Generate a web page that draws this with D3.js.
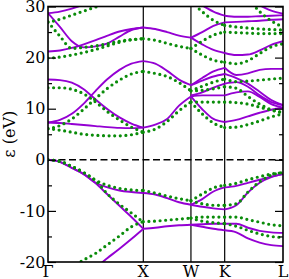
<!DOCTYPE html>
<html>
<head>
<meta charset="utf-8">
<script src="https://cdn.jsdelivr.net/npm/d3@7"></script>
<style>
  body { margin: 0; background: #fff; }
  svg text { font-family: "DejaVu Serif", serif; }
</style>
</head>
<body>
<script>
// high symmetry points along the path (fcc)
var kSym = [0, 1, 1.5, 1.854, 2.466];
var kLabels = ["Γ", "X", "W", "K", "L"];
var yMajor = [-20, -10, 0, 10, 20, 30];
var yMinor = [-15, -5, 5, 15, 25];

// k samples on each segment
var kGX = [0, 0.125, 0.25, 0.375, 0.5, 0.625, 0.75, 0.875, 1];
var kXW = [1, 1.125, 1.25, 1.375, 1.5];
var kWK = [1.5, 1.618, 1.736, 1.854];
var kKL = [1.854, 1.976, 2.098, 2.221, 2.343, 2.466];

// purple bands (eV), one row per band
var purpleGX = [
  [0, -0.4, -1.6, -2.8, -4.5, -5.4, -6.0, -6.3, -6.5],
  [0, -0.4, -1.6, -2.8, -4.6, -6.8, -9.0, -11.2, -13.5],
  [-23, -22.8, -22.4, -21.8, -21.0, -19.2, -17.4, -15.5, -13.5],
  [7.3, 7.2, 7.0, 6.8, 6.6, 6.4, 6.25, 6.2, 6.3],
  [7.3, 7.8, 9.0, 11.0, 13.5, 15.8, 17.6, 18.8, 19.3],
  [15.7, 15.6, 15.1, 13.8, 11.8, 9.9, 8.3, 7.1, 6.3],
  [21.2, 21.4, 21.9, 22.6, 23.4, 24.3, 25.1, 25.6, 25.9],
  [28.7, 26.0, 23.2, 22.0, 22.2, 22.8, 24.1, 25.4, 25.9],
  [28.7, 29.0, 29.6, 30.4, 31.5, 32.5, 33.5, 34, 34]
];
var purpleXW = [
  [-6.5, -6.8, -7.5, -8.3, -8.8],
  [-13.5, -13.3, -13.0, -12.8, -12.7],
  [6.3, 6.9, 8.0, 10.6, 12.4],
  [19.3, 18.8, 17.4, 15.7, 14.6],
  [25.9, 25.6, 25.0, 24.3, 23.9]
];
var purpleWK = [
  [-8.8, -7.7, -6.2, -5.4],
  [-8.8, -9.2, -9.5, -9.7],
  [-12.7, -12.6, -12.5, -12.5],
  [-12.7, -13.1, -13.5, -13.8],
  [12.4, 12.6, 12.6, 12.6],
  [12.4, 9.9, 8.0, 7.4],
  [14.6, 16.0, 17.3, 18.0],
  [14.6, 15.5, 16.3, 16.8],
  [12.6, 13.2, 14.1, 14.9],
  [23.9, 25.0, 26.2, 26.9],
  [23.9, 22.6, 21.5, 20.9],
  [31.5, 30.2, 29.0, 28.2]
];
var purpleKL = [
  [-5.4, -5.1, -4.5, -3.9, -3.3, -2.8],
  [-9.7, -8.9, -6.4, -4.5, -3.4, -2.8],
  [-12.5, -12.5, -13.3, -13.9, -14.2, -14.3],
  [-13.8, -14.2, -15.4, -16.2, -16.7, -16.9],
  [7.4, 7.8, 8.5, 9.2, 9.8, 10.2],
  [12.6, 13.2, 13.4, 12.3, 10.9, 10.2],
  [14.9, 15.2, 14.3, 12.6, 11.3, 10.7],
  [16.8, 16.0, 14.9, 13.3, 11.7, 10.7],
  [18.0, 16.6, 16.9, 17.6, 17.8, 17.8],
  [20.9, 20.5, 20.6, 21.4, 22.5, 23.2],
  [26.9, 27.0, 27.1, 27.2, 27.4, 27.5],
  [28.2, 28.0, 28.0, 28.1, 28.2, 28.3],
  [33, 32, 31, 30.2, 29.2, 28.6]
];

// green (dotted) bands
var greenGX = [
  [0, -0.3, -1.3, -2.5, -4.0, -5.0, -5.6, -5.9, -6.0],
  [0, -0.3, -1.3, -2.5, -4.1, -6.7, -8.7, -10.4, -12.2],
  [-24.0, -22.6, -21.0, -19.6, -18.3, -16.6, -14.9, -13.1, -12.1],
  [6.1, 5.8, 5.4, 5.0, 4.8, 4.7, 4.7, 4.9, 5.4],
  [6.1, 6.7, 8.0, 9.9, 12.0, 14.0, 15.6, 16.8, 17.3],
  [14.1, 14.1, 13.8, 12.9, 11.3, 9.4, 7.8, 6.4, 5.4],
  [19.9, 20.1, 20.5, 21.0, 21.6, 22.3, 23.0, 23.5, 23.7],
  [27.0, 24.2, 21.8, 22.0, 22.3, 22.7, 23.2, 23.5, 23.7],
  [26.9, 27.5, 28.3, 29.1, 29.9, 30.6, 31.3, 32, 32.5]
];
var greenXW = [
  [-6.0, -6.5, -7.1, -7.6, -8.0],
  [-12.1, -12.0, -11.8, -11.6, -11.4],
  [5.4, 6.0, 7.5, 9.6, 11.3],
  [17.3, 16.9, 16.3, 15.1, 13.5],
  [23.7, 23.4, 22.8, 22.2, 21.8]
];
var greenWK = [
  [-8.0, -6.7, -5.5, -5.0],
  [-8.0, -8.6, -8.9, -8.9],
  [-11.4, -11.2, -11.2, -11.2],
  [-11.4, -12.0, -12.3, -12.5],
  [11.3, 11.3, 11.3, 11.3],
  [11.3, 9.0, 7.2, 6.3],
  [13.5, 14.4, 15.2, 15.8],
  [13.5, 13.6, 13.9, 14.3],
  [21.8, 23.2, 24.4, 25.0],
  [21.8, 20.5, 19.5, 19.1],
  [31, 29.0, 27.3, 26.3]
];
var greenKL = [
  [-5.0, -4.6, -3.9, -3.3, -2.8, -2.5],
  [-8.9, -8.6, -6.3, -4.3, -3.0, -2.5],
  [-11.2, -11.2, -11.7, -12.2, -12.7, -12.9],
  [-12.5, -13.0, -13.8, -14.5, -15.0, -15.2],
  [6.3, 6.4, 6.9, 7.6, 8.4, 9.0],
  [11.3, 11.2, 10.9, 10.3, 9.7, 9.3],
  [14.3, 14.0, 12.4, 10.9, 9.8, 9.2],
  [15.8, 15.3, 15.4, 15.6, 15.8, 16.0],
  [19.1, 18.8, 19.4, 20.8, 22.1, 22.7],
  [25.0, 24.9, 24.8, 24.7, 24.7, 24.7],
  [26.3, 26.0, 25.8, 25.6, 25.5, 25.4],
  [34, 33, 31.5, 29.0, 27.2, 26.0]
];

var w = 289;
var h = 279;
var padLeft = 48, padRight = 283, padTop = 6.5, padBottom = 262;
var purple = "#9400d3";
var green = "#0a8c0a";

var svg = d3.select("body")
            .append("svg")
            .attr("width", w)
            .attr("height", h);

var xScale = d3.scaleLinear()
               .domain([kSym[0], kSym[kSym.length - 1]])
               .range([padLeft, padRight]);

var yScale = d3.scaleLinear()
               .domain([-20, 30])
               .range([padBottom, padTop]);

svg.append("clipPath")
   .attr("id", "plot")
   .append("rect")
   .attr("x", padLeft)
   .attr("y", padTop)
   .attr("width", padRight - padLeft)
   .attr("height", padBottom - padTop);

var line = d3.line()
             .x(function(d) { return xScale(d[0]); })
             .y(function(d) { return yScale(d[1]); })
             .curve(d3.curveMonotoneX);

// glue every band row to its k grid
function segments(ks, rows) {
  return rows.map(function(row) {
    return row.map(function(e, i) { return [ks[i], e]; });
  });
}

var purpleLines = [].concat(segments(kGX, purpleGX), segments(kXW, purpleXW),
                            segments(kWK, purpleWK), segments(kKL, purpleKL));
var greenLines = [].concat(segments(kGX, greenGX), segments(kXW, greenXW),
                           segments(kWK, greenWK), segments(kKL, greenKL));

var plot = svg.append("g").attr("clip-path", "url(#plot)");

// vertical lines at X, W, K
plot.selectAll(".sym")
    .data(kSym.slice(1, 4))
    .enter()
  .append("line")
    .attr("x1", function(d) { return xScale(d); })
    .attr("x2", function(d) { return xScale(d); })
    .attr("y1", padTop)
    .attr("y2", padBottom)
    .attr("stroke", "#000")
    .attr("stroke-width", 1.2);

// fermi level
plot.append("line")
    .attr("x1", padLeft)
    .attr("x2", padRight)
    .attr("y1", yScale(0))
    .attr("y2", yScale(0))
    .attr("stroke", "#000")
    .attr("stroke-width", 1.4)
    .attr("stroke-dasharray", "7,3.5");

plot.selectAll(".pband")
    .data(purpleLines)
    .enter()
  .append("path")
    .attr("d", line)
    .attr("fill", "none")
    .attr("stroke", purple)
    .attr("stroke-width", 1.9);

plot.selectAll(".gband")
    .data(greenLines)
    .enter()
  .append("path")
    .attr("d", line)
    .attr("fill", "none")
    .attr("stroke", green)
    .attr("stroke-width", 3.2)
    .attr("stroke-linecap", "round")
    .attr("stroke-dasharray", "0,5.6");

// axes
var yAxis = d3.axisLeft(yScale)
              .tickValues(yMajor)
              .tickSize(-8)
              .tickPadding(2.5)
              .tickFormat(function(d) { return String(d); });

var yMinorAxis = d3.axisLeft(yScale)
                   .tickValues(yMinor)
                   .tickSize(-4)
                   .tickFormat("");

var gy = svg.append("g")
   .attr("transform", "translate(" + padLeft + ",0)")
   .call(yAxis);
gy.selectAll("text").style("font-size", "16px").attr("fill", "#000");

svg.append("g")
   .attr("transform", "translate(" + padLeft + ",0)")
   .call(yMinorAxis);

svg.append("g")
   .attr("transform", "translate(" + padRight + ",0)")
   .call(d3.axisRight(yScale).tickValues(yMajor).tickSize(-8).tickFormat(""));

svg.append("g")
   .attr("transform", "translate(" + padRight + ",0)")
   .call(d3.axisRight(yScale).tickValues(yMinor).tickSize(-4).tickFormat(""));

svg.selectAll(".domain").remove();
svg.selectAll(".tick line").attr("stroke", "#000").attr("stroke-width", 1.2);

svg.append("rect")
   .attr("x", padLeft)
   .attr("y", padTop)
   .attr("width", padRight - padLeft)
   .attr("height", padBottom - padTop)
   .attr("fill", "none")
   .attr("stroke", "#000")
   .attr("stroke-width", 1.6);

svg.selectAll(".klabel")
   .data(kSym)
   .enter()
 .append("text")
   .attr("x", function(d) { return xScale(d); })
   .attr("y", 277)
   .attr("text-anchor", "middle")
   .style("font-size", "16px")
   .text(function(d, i) { return kLabels[i]; });

svg.append("text")
   .attr("transform", "translate(15," + ((padTop + padBottom) / 2) + ") rotate(-90)")
   .attr("text-anchor", "middle")
   .style("font-size", "16px")
   .text("ε (eV)");
</script>
</body>
</html>
